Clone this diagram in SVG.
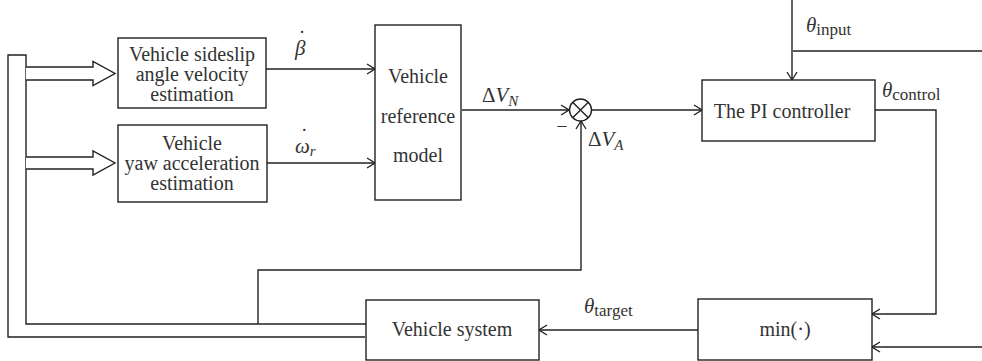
<svg xmlns="http://www.w3.org/2000/svg" width="982" height="361" viewBox="0 0 982 361">
<defs>
<style>
.box{fill:#fff;stroke:#222;stroke-width:1.4}
.ln{fill:none;stroke:#222;stroke-width:1.4}
.arr{fill:none;stroke:#222;stroke-width:1.4;marker-end:url(#ah)}
text{font-family:'Liberation Serif','Times New Roman',Tinos,'DejaVu Serif',serif;fill:#333}
.t{font-size:20px;text-anchor:middle}
.m{font-size:21px;font-style:italic}
.s{font-size:17px;font-style:normal}
.si{font-size:15px;font-style:italic}
.d{font-style:normal}
</style>
<marker id="ah" markerWidth="10" markerHeight="12" refX="9" refY="6" orient="auto" markerUnits="userSpaceOnUse">
<path d="M1,1 L9,6 L1,11" fill="none" stroke="#222" stroke-width="1.3"/>
</marker>
</defs>
<rect width="982" height="361" fill="#fff"/>
<g id="connectors">
<path class="ln" d="M365,337 H8 V55 H26 V324 H366"/>
<path class="box" d="M26,67 H93 V61.5 L115,73.5 L93,85.5 V80 H26"/>
<path class="box" d="M26,157 H93 V151 L115,163 L93,175 V169 H26"/>
<path class="arr" d="M266,69 H375"/>
<path class="arr" d="M267,163 H375"/>
<path class="arr" d="M462,110 H569"/>
<path class="arr" d="M258,324 V270 H581 V121"/>
<path class="arr" d="M592,110 H702"/>
<path class="arr" d="M792,0 V80"/>
<path class="ln" d="M793,51 H982"/>
<path class="arr" d="M875,110 H936 V314 H872"/>
<path class="arr" d="M982,347 H872"/>
<path class="arr" d="M698,330 H539"/>
</g>
<g id="sum">
<circle class="box" cx="580.5" cy="110" r="11"/>
<path class="ln" d="M572.7,102.2 L588.3,117.8 M588.3,102.2 L572.7,117.8"/>
<text class="t" x="562" y="133">−</text>
</g>
<g id="sideslip">
<rect class="box" x="118" y="38" width="148" height="70"/>
<text class="t" x="192" y="61">Vehicle sideslip</text>
<text class="t" x="192" y="81">angle velocity</text>
<text class="t" x="192" y="101">estimation</text>
</g>
<g id="yaw">
<rect class="box" x="118" y="125" width="149" height="77"/>
<text class="t" x="192" y="150">Vehicle</text>
<text class="t" x="192" y="170">yaw acceleration</text>
<text class="t" x="192" y="190">estimation</text>
</g>
<g id="refmodel">
<rect class="box" x="375" y="25" width="86" height="175"/>
<text class="t" x="418" y="83">Vehicle</text>
<text class="t" x="418" y="123">reference</text>
<text class="t" x="418" y="162">model</text>
</g>
<g id="pi">
<rect class="box" x="702" y="80" width="173" height="61"/>
<text class="t" x="782" y="118">The PI controller</text>
</g>
<g id="min">
<rect class="box" x="698" y="299" width="174" height="61"/>
<text class="t" x="785" y="336">min(·)</text>
</g>
<g id="vehsys">
<rect class="box" x="366" y="300" width="173" height="60"/>
<text class="t" x="452" y="336">Vehicle system</text>
</g>
<g id="labels">
<text class="m" x="295" y="55">β<tspan class="d" dx="-7" dy="-10">˙</tspan></text>
<text class="m" x="295" y="153">ω<tspan class="d" dx="-9" dy="-10">˙</tspan><tspan class="si" dx="2" dy="13">r</tspan></text>
<text class="m" x="482" y="102" style="font-style:normal">Δ<tspan style="font-style:italic">V</tspan><tspan class="si" dy="4">N</tspan></text>
<text class="m" x="588" y="146" style="font-style:normal">Δ<tspan style="font-style:italic">V</tspan><tspan class="si" dy="4">A</tspan></text>
<text class="m" x="806" y="32">θ<tspan class="s" dy="3">input</tspan></text>
<text class="m" x="882" y="97">θ<tspan class="s" dy="3">control</tspan></text>
<text class="m" x="584" y="313">θ<tspan class="s" dy="3">target</tspan></text>
</g>
</svg>
